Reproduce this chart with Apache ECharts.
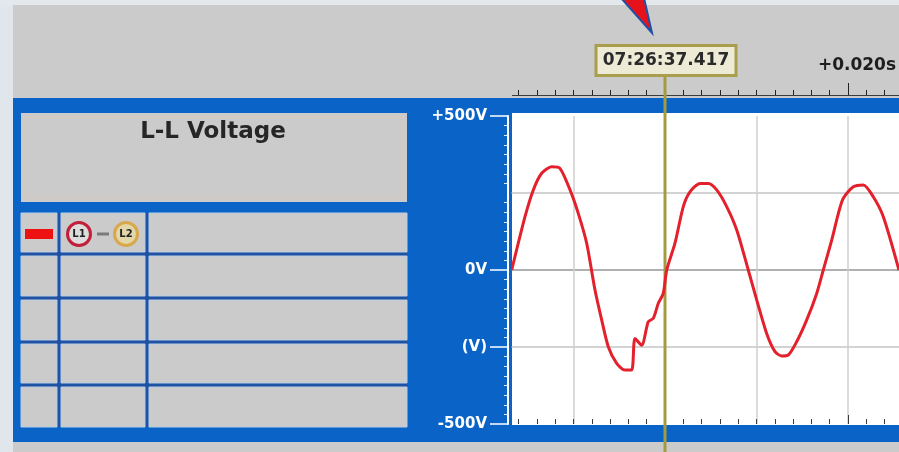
<!DOCTYPE html>
<html>
<head>
<meta charset="utf-8">
<title>L-L Voltage</title>
<script src="https://cdn.jsdelivr.net/npm/echarts@6/dist/echarts.min.js"></script>
<style>
    html, body { margin: 0; padding: 0; background: #cbcbcb; }
    #main { width: 899px; height: 452px; }
</style>
</head>
<body>
<div id="main"></div>
<script>
    // waveform L1-L2, time in ms relative to the cursor, voltage in V
    var timeMs = [-16.75, -15.30, -14.39, -13.48, -12.39, -11.48, -10.38, -9.48, -8.56, -7.65,
        -6.92, -6.20, -5.28, -4.37, -3.64, -3.28, -2.55, -1.83, -1.28, -0.73,
        -0.19, 0.19, 1.09, 2.00, 2.73, 3.83, 4.73, 5.65, 6.74, 7.84,
        9.10, 10.02, 11.11, 12.02, 12.75, 13.48, 14.39, 15.49, 16.58, 17.30,
        18.22, 18.95, 19.49, 20.58, 21.67, 22.76, 23.86, 25.57];
    var voltage = [0, 173, 260, 314, 335, 330, 260, 184, 87, -65,
        -162, -249, -303, -325, -325, -222, -244, -168, -157, -108,
        -76, 0, 87, 206, 254, 281, 281, 260, 206, 130,
        0, -97, -206, -265, -279, -276, -233, -162, -76, 0,
        97, 184, 233, 270, 276, 238, 173, 0];

    var yTickValues = [500, 0, -250, -500];
    var yTickLabels = ['+500V', '0V', '(V)', '-500V'];
    var cursorTime = 0;
    var cursorLabel = '07:26:37.417';
    var panelTitle = 'L-L Voltage';
    var channelFrom = 'L1';
    var channelTo = 'L2';

    var BLUE = '#0a64c8';
    var GRAY = '#cbcbcb';
    var WAVE = '#e3202b';
    var FONT = 'DejaVu Sans';

    var chart = echarts.init(document.getElementById('main'));

    var seriesData = timeMs.map(function (t, i) {
        return [t, voltage[i]];
    });

    var option = {
        animation: false,
        backgroundColor: GRAY,
        // grid starts at -20ms and runs past the right edge (to +40ms) so ticks stay on round values
        grid: { left: 482, right: -132, top: 116, bottom: 28, show: false, containLabel: false, outerBoundsMode: 'none' },
        xAxis: [
            {   // bottom ticks, inside the plot
                type: 'value', min: -20, max: 40, interval: 20, position: 'bottom',
                axisLine: { show: false, onZero: false },
                axisTick: { show: true, inside: true, length: 9, lineStyle: { color: '#3a3a3a', width: 1 } },
                minorTick: { show: true, splitNumber: 10, length: 5, lineStyle: { color: '#3a3a3a', width: 1 } },
                axisLabel: { show: false },
                splitLine: { show: false }
            },
            {   // time ruler above the panel
                type: 'value', min: -20, max: 40, interval: 20, position: 'top', offset: 21,
                axisLine: { show: true, onZero: false, lineStyle: { color: '#3c3c3c', width: 1 } },
                axisTick: { show: true, length: 12, lineStyle: { color: '#222', width: 1 } },
                minorTick: { show: true, splitNumber: 10, length: 5, lineStyle: { color: '#222', width: 1 } },
                axisLabel: {
                    show: true, margin: 21, padding: [0, 0, 0, 18],
                    color: '#1e1e1e', fontWeight: 'bold', fontSize: 17, fontFamily: FONT,
                    formatter: function (v) {
                        return v > 0 ? '+' + (v / 1000).toFixed(3) + 's' : '';
                    }
                },
                splitLine: { show: false }
            },
            {   // vertical grid every 10ms
                type: 'value', min: -20, max: 40, interval: 10, position: 'bottom',
                axisLine: { show: false, onZero: false },
                axisTick: { show: false },
                axisLabel: { show: false },
                splitLine: { show: true, lineStyle: { color: '#cfcfcf', width: 1.5 } }
            }
        ],
        yAxis: [
            {
                type: 'value', min: -500, max: 500, interval: 250, position: 'left', offset: -26, z: 20,
                axisLine: { show: true, onZero: false, lineStyle: { color: '#ffffff', width: 2 } },
                axisTick: { show: true, length: 18, customValues: yTickValues, lineStyle: { color: '#ffffff', width: 1.5 } },
                minorTick: { show: true, splitNumber: 8, length: 4, lineStyle: { color: '#e6efff', width: 1 } },
                axisLabel: {
                    customValues: yTickValues, margin: 21,
                    color: '#ffffff', fontWeight: 'bold', fontSize: 15, fontFamily: FONT,
                    formatter: function (v) {
                        var i = yTickValues.indexOf(v);
                        return i >= 0 ? yTickLabels[i] : '';
                    }
                },
                splitLine: { show: false }
            },
            {
                type: 'value', min: -500, max: 500, interval: 250, position: 'left',
                axisLine: { show: false, onZero: false },
                axisTick: { show: false },
                axisLabel: { show: false },
                splitLine: {
                    show: true,
                    lineStyle: { width: 1.5, color: ['rgba(0,0,0,0)', '#c4c4c4', '#969696', '#c4c4c4', 'rgba(0,0,0,0)'] }
                }
            }
        ],
        series: [{
            name: channelFrom + '-' + channelTo,
            type: 'line',
            xAxisIndex: 0,
            yAxisIndex: 0,
            data: seriesData,
            showSymbol: false,
            smooth: 0.25,
            lineStyle: { color: WAVE, width: 3 },
            z: 2
        }]
    };
    chart.setOption(option);

    // cursor position from the axis
    var cx = chart.convertToPixel({ xAxisIndex: 0 }, cursorTime);

    var els = [];
    function bg(x, y, w, h, fill, z2, stroke) {
        els.push({
            type: 'rect', z: -1, z2: z2, silent: true,
            shape: { x: x, y: y, width: w, height: h },
            style: { fill: fill, stroke: stroke || null, lineWidth: 1 }
        });
    }
    function txt(x, y, s, font, color, z, z2) {
        els.push({
            type: 'text', z: z, z2: z2 || 0, silent: true,
            style: {
                x: x, y: y, text: s, font: font, fill: color,
                textAlign: 'center', textVerticalAlign: 'middle', align: 'center', verticalAlign: 'middle'
            }
        });
    }

    // outer frame and panels
    bg(0, 0, 13, 452, '#e0e6ec', 0);
    bg(0, 0, 899, 5, '#e3e8ec', 0);
    bg(13, 98, 886, 344, BLUE, 1);
    bg(512, 113, 387, 312, '#ffffff', 2);

    // legend table on the left
    bg(21, 113, 386, 89, GRAY, 2);
    bg(25, 117, 378, 81, GRAY, 3, '#dcc7b8');
    txt(213, 132, panelTitle, 'bold 23px "' + FONT + '"', '#262626', -1, 10);

    bg(21, 213, 386, 214, '#1f52a3', 2);
    var cols = [[21, 57], [61, 145], [149, 407]];
    var rows = [[213, 252], [256, 296], [300, 340], [344, 383], [387, 427]];
    rows.forEach(function (r) {
        cols.forEach(function (c) {
            bg(c[0], r[0], c[1] - c[0], r[1] - r[0], GRAY, 3, '#b9cde6');
        });
    });

    // channel swatch and L1 - L2 badges
    bg(25, 229, 28, 10, '#ee1111', 5);
    els.push({
        type: 'circle', z: -1, z2: 5, silent: true,
        shape: { cx: 79, cy: 234, r: 11.5 },
        style: { fill: '#dcdcdc', stroke: '#c2203a', lineWidth: 3 }
    });
    els.push({
        type: 'circle', z: -1, z2: 5, silent: true,
        shape: { cx: 126, cy: 234, r: 11.5 },
        style: { fill: '#e3d6a8', stroke: '#d8a84c', lineWidth: 3 }
    });
    txt(79, 234.5, channelFrom, 'bold 10px "' + FONT + '"', '#222', -1, 6);
    txt(126, 234.5, channelTo, 'bold 10px "' + FONT + '"', '#222', -1, 6);
    els.push({
        type: 'line', z: -1, z2: 5, silent: true,
        shape: { x1: 97, y1: 234, x2: 109, y2: 234 },
        style: { stroke: '#7a7a7a', lineWidth: 3 }
    });

    // pointer at the top
    els.push({
        type: 'polygon', z: -1, z2: 5, silent: true,
        shape: { points: [[621, -2], [644, -2], [652, 33]] },
        style: { fill: '#e5121c', stroke: '#1f4fa8', lineWidth: 2 }
    });

    // covers for the part of the grid left of the visible plot
    els.push({
        type: 'rect', z: 10, silent: true,
        shape: { x: 462, y: 108, width: 49.5, height: 320 },
        style: { fill: BLUE }
    });
    els.push({
        type: 'rect', z: 10, silent: true,
        shape: { x: 462, y: 76, width: 50, height: 21 },
        style: { fill: GRAY }
    });

    // cursor line and time box
    els.push({
        type: 'line', z: 1, silent: true,
        shape: { x1: cx, y1: 76, x2: cx, y2: 452 },
        style: { stroke: '#a39b3f', lineWidth: 3 }
    });
    els.push({
        type: 'rect', z: 30, silent: true,
        shape: { x: cx - 69, y: 45.5, width: 140, height: 30 },
        style: { fill: '#edebd6', stroke: '#a89e4c', lineWidth: 3 }
    });
    txt(cx + 1, 61, cursorLabel, 'bold 17px "' + FONT + '"', '#2a2a2a', 31);

    chart.setOption({ graphic: { elements: els } });
    window.addEventListener('resize', chart.resize);
</script>
</body>
</html>
